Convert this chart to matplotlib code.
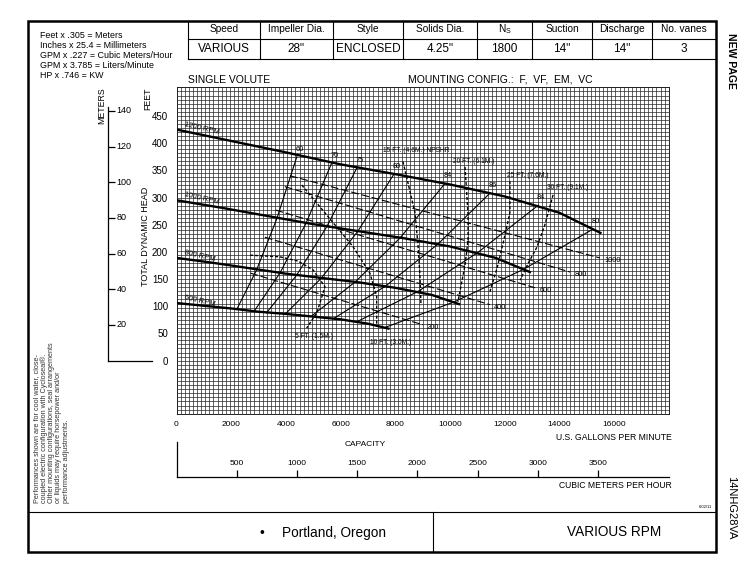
import matplotlib.pyplot as plt
from matplotlib.ticker import MultipleLocator
from matplotlib.patches import Rectangle

plt.rcParams['font.family'] = ['Liberation Sans', 'DejaVu Sans']
plt.rcParams['mathtext.fontset'] = 'custom'
plt.rcParams['mathtext.rm'] = 'Liberation Sans'

# header block
head_labels = ['Speed', 'Impeller Dia.', 'Style', 'Solids Dia.', r'N$_\mathrm{S}$',
               'Suction', 'Discharge', 'No. vanes']
head_values = ['VARIOUS', '28"', 'ENCLOSED', '4.25"', '1800', '14"', '14"', '3']
conversions = ['Feet x .305 = Meters', 'Inches x 25.4 = Millimeters',
               'GPM x .227 = Cubic Meters/Hour', 'GPM x 3.785 = Liters/Minute',
               'HP x .746 = KW']
note_lines = ['Performances shown are for cool water, close-',
              'coupled electric configuration with Cycloseal\u00ae.',
              'Other mounting configurations, seal arrangements',
              'or liquids may require horsepower and/or',
              'performance adjustments.']

# head-capacity curves (gpm, feet)
rpm_labels = ['1200 RPM', '1000 RPM', '800 RPM', '600 RPM']
q_1200 = [0, 2000, 4000, 6000, 8000, 10000, 12000, 14000, 15500]
h_1200 = [425, 404, 383, 361, 343, 324, 302, 272, 235]
q_1000 = [0, 1670, 3330, 5000, 6670, 8330, 10000, 11670, 12920]
h_1000 = [295, 281, 266, 251, 238, 225, 210, 189, 163]
q_800 = [0, 1330, 2670, 4000, 5330, 6670, 8000, 9330, 10330]
h_800 = [189, 180, 170, 160, 152, 144, 134, 121, 104]
q_600 = [0, 1000, 2000, 3000, 4000, 5000, 6000, 7000, 7750]
h_600 = [106, 101, 96, 90, 86, 81, 76, 68, 59]
curves = [(q_1200, h_1200), (q_1000, h_1000), (q_800, h_800), (q_600, h_600)]

# efficiency lines, points on the 1200/1000/800/600 rpm curves
eff_labels = ['60', '70', '75', '80', '84', '86', '84', '80']
eff_q = [[4400, 3660, 2930, 2200], [5670, 4730, 3780, 2840],
         [6590, 5490, 4390, 3290], [7950, 6630, 5300, 3980],
         [9820, 8180, 6540, 4910], [11460, 9550, 7640, 5730],
         [13230, 11020, 8820, 6610], [15230, 12690, 10150, 7620]]
eff_h = [[375, 260, 167, 94], [363, 252, 161, 91],
         [354, 246, 157, 88], [343, 238, 152, 86],
         [326, 226, 145, 81], [308, 214, 137, 77],
         [286, 199, 127, 72], [242, 168, 108, 61]]

# horsepower lines
hp_labels = ['200', '400', '600', '800', '1000']
hp_q = [[2700, 9010], [3230, 11460], [3620, 13110], [3960, 14390], [4150, 15480]]
hp_h = [[161, 66], [227, 103], [277, 134], [320, 163], [340, 189]]

# NPSHR lines
npsh_labels = ['5 FT. (1.5M.)', '10 FT. (3.0M.)', '15 FT. (4.6M.) NPSHR',
               '20 FT. (6.1M.)', '25 FT. (7.6M.)', '30 FT. (9.1M.)']
npsh_q = [[2690, 3780, 4450, 4990, 5430, 5130, 4760],
          [4580, 6450, 7070, 7320, 7320],
          [8280, 8720, 8830, 8900, 8940],
          [10550, 10660, 10660, 10550, 10290],
          [12190, 12190, 11970, 11720, 11460],
          [13770, 13470, 13180, 12890, 12560]]
npsh_h = [[194, 191, 183, 167, 136, 88, 60],
          [323, 210, 161, 118, 62],
          [366, 272, 213, 158, 102],
          [356, 268, 222, 176, 108],
          [330, 272, 222, 170, 127],
          [305, 250, 209, 182, 148]]
npsh_lab_q = [4330, 7070, 7550, 10110, 12080, 13550]
npsh_lab_h = [45, 33, 387, 367, 340, 318]

gpm_ticks = [0, 2000, 4000, 6000, 8000, 10000, 12000, 14000, 16000]
feet_ticks = [0, 50, 100, 150, 200, 250, 300, 350, 400, 450]
meter_ticks = [20, 40, 60, 80, 100, 120, 140]
m3h_ticks = [500, 1000, 1500, 2000, 2500, 3000, 3500]

W, H = 755, 565
fig = plt.figure(figsize=(W / 100, H / 100), dpi=100)

# page overlay in pixel units
bg = fig.add_axes([0, 0, 1, 1], zorder=0)
bg.set_xlim(0, W)
bg.set_ylim(H, 0)
bg.axis('off')

bg.add_patch(Rectangle((28, 20.5), 688, 531.5, fill=False, lw=1.8, color='k'))
col_x = [188, 260, 333, 403, 477, 532, 592, 652, 716]
bg.plot([188, 716], [38.5, 38.5], color='k', lw=0.8)
bg.plot([188, 716], [58.5, 58.5], color='k', lw=0.8)
for x in col_x[:-1]:
    bg.plot([x, x], [20.5, 58.5], color='k', lw=0.8)
for i in range(len(head_labels)):
    xc = (col_x[i] + col_x[i + 1]) / 2
    bg.text(xc, 29.5, head_labels[i], ha='center', va='center', fontsize=7.3)
    bg.text(xc, 48.5, head_values[i], ha='center', va='center', fontsize=8.5)

for i, line in enumerate(conversions):
    bg.text(40, 35 + 10 * i, line, ha='left', va='center', fontsize=6.4)

bg.text(188, 80, 'SINGLE VOLUTE', ha='left', va='center', fontsize=7.5)
bg.text(408, 80, 'MOUNTING CONFIG.:  F,  VF,  EM,  VC', ha='left', va='center', fontsize=7.5)
bg.text(731, 61, 'NEW PAGE', rotation=-90, ha='center', va='center',
        fontsize=7.5, fontweight='bold')
bg.text(731, 508, '14NHG28VA', rotation=-90, ha='center', va='center', fontsize=8)

bg.text(101.5, 106, 'METERS', rotation=90, ha='center', va='center', fontsize=6.3)
bg.text(148, 99, 'FEET', rotation=90, ha='center', va='center', fontsize=6.3)
bg.text(145, 236, 'TOTAL DYNAMIC HEAD', rotation=90, ha='center', va='center', fontsize=6.5)

bg.text(365, 445, 'CAPACITY', ha='center', va='center', fontsize=6)
bg.text(672, 438, 'U.S. GALLONS PER MINUTE', ha='right', va='center', fontsize=6.2)
bg.text(672, 486, 'CUBIC METERS PER HOUR', ha='right', va='center', fontsize=6.2)
bg.text(705, 507, '6/02/11', ha='center', va='center', fontsize=3)

for i, line in enumerate(note_lines):
    bg.text(37 + 7.3 * i, 503, line, rotation=90, ha='center', va='bottom',
            fontsize=5.2, color='#333333')

# footer
bg.plot([28, 716], [511.5, 511.5], color='k', lw=0.8)
bg.plot([433, 433], [511.5, 552], color='k', lw=0.8)
bg.text(262, 533, '\u2022', ha='center', va='center', fontsize=10)
bg.text(282, 533, 'Portland, Oregon', ha='left', va='center', fontsize=9.8)
bg.text(614, 532, 'VARIOUS RPM', ha='center', va='center', fontsize=9.8)

# main performance grid
ax_left, ax_bottom = 176.5 / W, 1 - 413.7 / H
ax_w, ax_h = 492.3 / W, 326.3 / H
ax = fig.add_axes([ax_left, ax_bottom, ax_w, ax_h], zorder=2)
ax.set_xlim(0, 18000)
ax.set_ylim(-97.5, 502.5)
ax.xaxis.set_minor_locator(MultipleLocator(150))
ax.yaxis.set_minor_locator(MultipleLocator(7.5))
ax.xaxis.remove_overlapping_locs = False
ax.yaxis.remove_overlapping_locs = False
ax.grid(True, which='minor', color='#262626', lw=0.5)
ax.set_xticks(gpm_ticks)
ax.set_yticks(feet_ticks)
ax.tick_params(which='both', length=0)
ax.tick_params(axis='x', pad=5, labelsize=6)
ax.tick_params(axis='y', pad=6, labelsize=7)
for s in ax.spines.values():
    s.set_linewidth(0.7)
    s.set_color('#222222')

for (q, h), lab in zip(curves, rpm_labels):
    ax.plot(q, h, color='k', lw=1.7, zorder=4)
    ax.annotate(lab, (q[0], h[0]), xytext=(5, 1.5), textcoords='offset points',
                rotation=-13, rotation_mode='anchor', ha='left', va='bottom',
                fontsize=5.5, zorder=5)

for q, h, lab in zip(eff_q, eff_h, eff_labels):
    ax.plot(q, h, color='k', lw=0.8, zorder=3)
    ax.annotate(lab, (q[0], h[0]), xytext=(2, 3), textcoords='offset points',
                ha='center', va='bottom', fontsize=5.3, zorder=5)

for q, h, lab in zip(hp_q, hp_h, hp_labels):
    ax.plot(q, h, color='k', lw=0.8, dashes=(7, 2.5), zorder=3)
    ax.annotate(lab, (q[-1], h[-1]), xytext=(3, -2), textcoords='offset points',
                ha='left', va='center', fontsize=5.3, zorder=5)

for q, h, lab, lq, lh in zip(npsh_q, npsh_h, npsh_labels, npsh_lab_q, npsh_lab_h):
    ax.plot(q, h, color='k', lw=1.0, dashes=(2.2, 1.4), zorder=3)
    ax.text(lq, lh, lab, ha='left', va='center', fontsize=4.8, zorder=5)

# meters scale
mx = fig.add_axes([108 / W, ax_bottom, 44 / W, ax_h], zorder=1)
mx.set_xlim(0, 1)
mx.set_ylim(-97.5 * 0.3048, 502.5 * 0.3048)
mx.patch.set_visible(False)
for side in ['top', 'right', 'bottom']:
    mx.spines[side].set_visible(False)
mx.spines['left'].set_bounds(0, 142)
mx.spines['left'].set_linewidth(0.9)
mx.plot([0, 0.99], [0, 0], color='k', lw=0.9, clip_on=False)
mx.set_xticks([])
mx.set_yticks(meter_ticks)
mx.tick_params(axis='y', direction='in', length=5, width=0.9, labelleft=False)
for m in meter_ticks:
    mx.text(0.19, m, str(m), ha='left', va='center', fontsize=6.5)

# cubic meters per hour scale
cx = fig.add_axes([ax_left, 1 - 476.7 / H, ax_w, 35 / H], zorder=1)
cx.set_xlim(0, 18000 * 0.227)
cx.set_ylim(0, 1)
cx.patch.set_visible(False)
cx.spines['top'].set_visible(False)
cx.spines['right'].set_visible(False)
cx.spines['left'].set_linewidth(0.9)
cx.spines['bottom'].set_linewidth(0.9)
cx.set_yticks([])
cx.set_xticks(m3h_ticks)
cx.tick_params(axis='x', direction='in', length=5, width=0.9, labelbottom=False)
for v in m3h_ticks:
    cx.text(v, 0.39, str(v), ha='center', va='center', fontsize=6)

fig.savefig('out.png', dpi=100)
